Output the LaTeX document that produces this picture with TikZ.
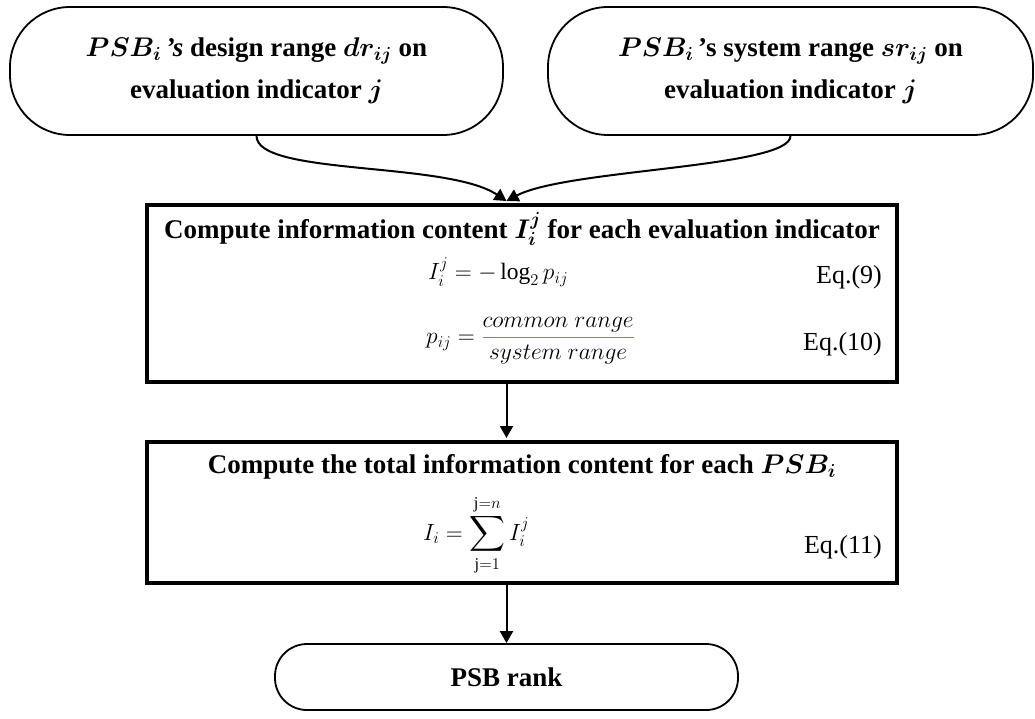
\RequirePackage{fix-cm}
\documentclass[tikz,border=0pt]{standalone}
\usepackage{amsmath}
\usepackage{bm}
\usepackage{fontspec}
\setmainfont{Liberation Serif}
\usetikzlibrary{arrows.meta}

\definecolor{fracred}{RGB}{160,122,118}
\def\boxw{750}
\def\flabel#1{\fontsize{27}{42}\selectfont #1}
\def\elabel#1{\fontsize{26}{30}\selectfont #1}
\def\mlabel#1{\fontsize{23.5}{28}\selectfont #1}

\begin{document}
\begin{tikzpicture}[x=1pt,y=-1pt,
    capsule/.style={draw,line width=1.8pt,rounded corners=60pt,inner sep=0pt,
      minimum height=128pt,align=center,font=\bfseries\flabel{}},
    stepbox/.style={draw,line width=4pt,minimum width=\boxw pt,inner sep=0pt},
    eqtext/.style={inner sep=0pt,font=\mlabel{}},
    eqno/.style={inner sep=0pt,anchor=east,font=\elabel{}},
    arr/.style={-{Triangle[width=13pt,length=12pt]},line width=2pt}
    ]
    \useasboundingbox (0,0) rectangle (1035,718);

    % inputs
    \node[capsule,minimum width=493pt] (drange) at (256.5,71)
    {$\bm{PSB_i}$\,\textbf{\textit{'s}} design range $\bm{dr_{ij}}$ on\\
     evaluation indicator $\bm{j}$};
    \node[capsule,minimum width=485pt] (srange) at (790.5,71)
    {$\bm{PSB_i}$\,'s system range $\bm{sr_{ij}}$ on\\
     evaluation indicator $\bm{j}$};

    % information content per indicator
    \node[stepbox,minimum height=177pt] (infobox) at (522,293.5) {};
    \node[eqtext,font=\bfseries\flabel{}] (infotitle) at (522,229)
    {Compute information content $\bm{I_i^j}$ for each evaluation indicator};
    \node[eqtext,anchor=west] (eqlog) at (428,272) {$I_i^j = -\log_2 p_{ij}$};
    \node[eqno] (eqnine) at (882,277) {Eq.(9)};
    \node[eqtext,anchor=west] (eqfrac) at (426,341)
    {$p_{ij} = {\color{fracred}\dfrac{\color{black}common\ range}{\color{black}system\ range}}$};
    \node[eqno] (eqten) at (882,344) {Eq.(10)};

    % total information content
    \node[stepbox,minimum height=141pt] (totalbox) at (522,512.5) {};
    \node[eqtext,font=\bfseries\flabel{}] (totaltitle) at (522,467)
    {Compute the total information content for each $\bm{PSB_i}$};
    \node[eqtext,anchor=west] (eqsum) at (423,535)
    {$I_i = \displaystyle\sum_{\mathrm{j}=1}^{\mathrm{j}=n} I_i^j$};
    \node[eqno] (eqeleven) at (882,547) {Eq.(11)};

    % output
    \node[capsule,rounded corners=32pt,minimum width=463pt,minimum height=66pt]
    (rank) at (506.5,677) {\raisebox{-5pt}{PSB rank}};

    % connectors
    \draw[arr] (drange.south) .. controls +(0,40) and +(-60,-40) .. ([yshift=2pt]infobox.north -| rank.north);
    \draw[arr] (srange.south) .. controls +(0,32) and +(60,-32) .. ([yshift=2pt]infobox.north -| rank.north);
    \draw[arr] (infobox.south -| rank.north) -- ([yshift=2pt]totalbox.north -| rank.north);
    \draw[arr] (totalbox.south -| rank.north) -- (rank.north);
  \end{tikzpicture}
\end{document}
